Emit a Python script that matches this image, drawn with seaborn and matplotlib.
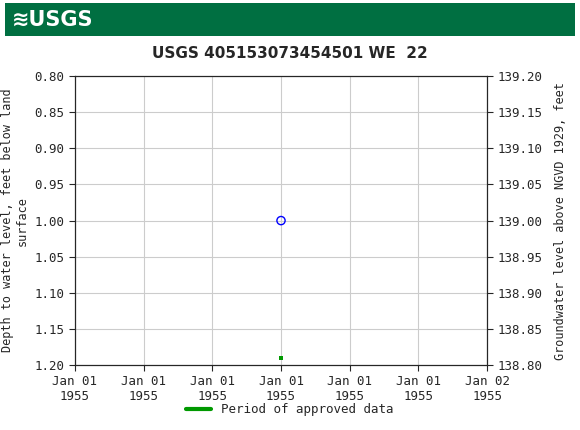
import matplotlib
matplotlib.use("Agg")
import matplotlib.pyplot as plt
import matplotlib.dates as mdates
import seaborn as sns
import pandas as pd

# data
obs_time = pd.to_datetime(["1955-01-01 12:00"])
obs_depth = [1.00]
approved_time = pd.to_datetime(["1955-01-01 12:00"])
approved_depth = [1.19]
x_start = pd.Timestamp("1955-01-01 00:00")
x_end = pd.Timestamp("1955-01-02 00:00")
tick_labels = ["Jan 01\n1955"] * 6 + ["Jan 02\n1955"]

sns.set_style("white")
plt.rcParams['font.family'] = ['DejaVu Sans Mono']

fig = plt.figure(figsize=(5.8, 4.3), dpi=100)

# USGS header banner
banner = fig.add_axes([0.008, 0.917, 0.984, 0.075])
banner.set_facecolor("#006f41")
banner.set_xticks([]); banner.set_yticks([])
for s in banner.spines.values():
    s.set_visible(False)
banner.text(0.012, 0.5, "≋USGS", color="white", fontsize=15, fontweight="bold",
            va="center", ha="left", family="DejaVu Sans")

ax = fig.add_axes([0.129, 0.151, 0.711, 0.672])
sns.scatterplot(x=obs_time, y=obs_depth, ax=ax, marker="o", s=35,
                facecolor="none", edgecolor="#0000ff", linewidth=1)
sns.scatterplot(x=approved_time, y=approved_depth, ax=ax, marker="s", s=8,
                color="#009900", linewidth=0)

ax.set_xlim(x_start, x_end)
ax.set_ylim(1.20, 0.80)
ax.set_yticks([0.80, 0.85, 0.90, 0.95, 1.00, 1.05, 1.10, 1.15, 1.20])
ax.set_yticklabels([f"{v:.2f}" for v in ax.get_yticks()], fontsize=9)
ticks = pd.date_range(x_start, x_end, periods=7)
ax.set_xticks(mdates.date2num(ticks))
ax.set_xticklabels(tick_labels, fontsize=9)
ax.grid(True, color="#cccccc", linewidth=0.8)
for s in ax.spines.values():
    s.set_color("black"); s.set_linewidth(0.8)
ax.tick_params(length=4, direction="out", bottom=True, left=True)
ax.set_xlabel("")
ax.set_ylabel("Depth to water level, feet below land\nsurface", fontsize=8.5)

ax2 = ax.twinx()
ax2.set_ylim(138.80, 139.20)
ax2.set_yticks([138.80, 138.85, 138.90, 138.95, 139.00, 139.05, 139.10, 139.15, 139.20])
ax2.set_yticklabels([f"{v:.2f}" for v in ax2.get_yticks()], fontsize=9)
ax2.tick_params(length=4, direction="out", right=True)
ax2.set_ylabel("Groundwater level above NGVD 1929, feet", fontsize=8.5, labelpad=8)

fig.text(0.5, 0.876, "USGS 405153073454501 WE  22", ha="center", va="center",
         fontsize=11, fontweight="bold", family="DejaVu Sans")

fig.legend(handles=[plt.Line2D([0], [0], color="#009900", linewidth=3)],
           labels=["Period of approved data"], loc="center",
           bbox_to_anchor=(0.5, 0.047), frameon=False, fontsize=9)

fig.savefig("out.png", dpi=100)
